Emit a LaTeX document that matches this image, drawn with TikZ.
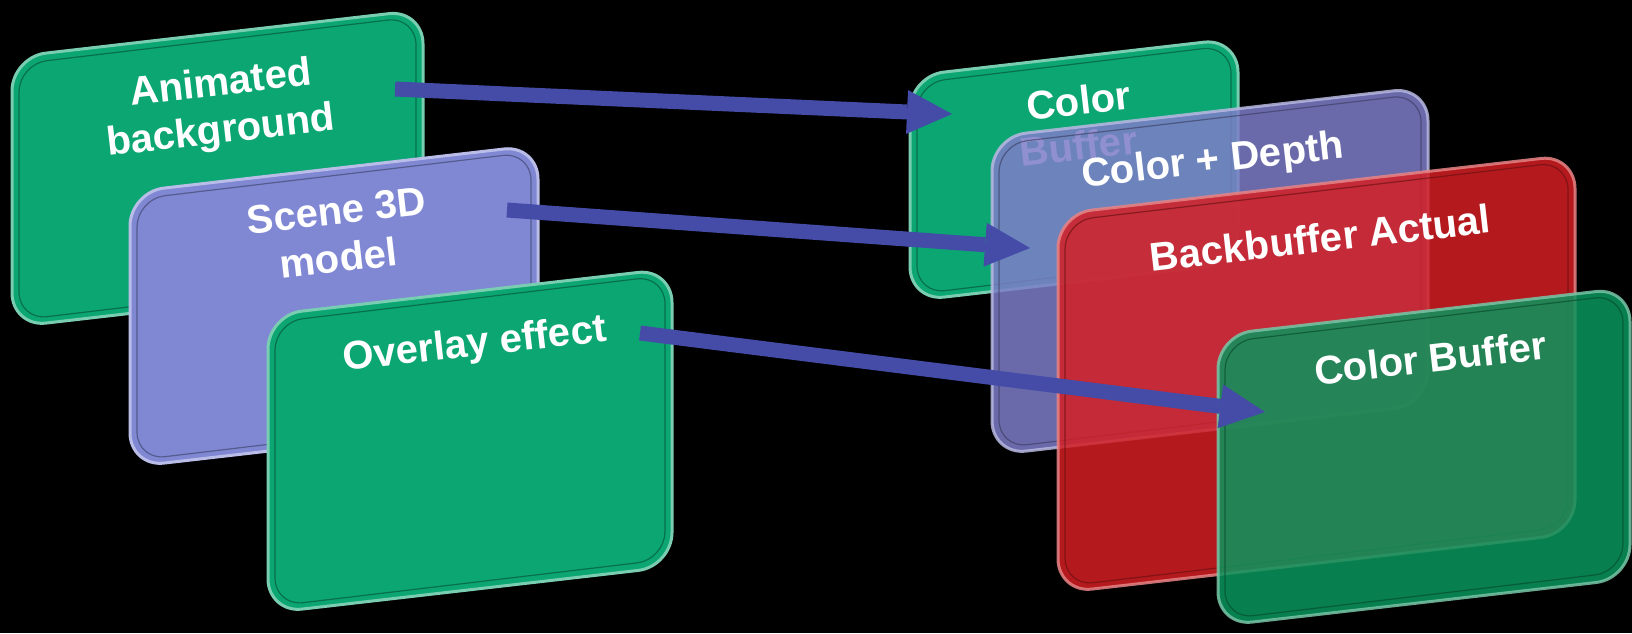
\documentclass[tikz,border=0pt]{standalone}
\usepackage{fontspec}
\setmainfont{Liberation Sans}
\usetikzlibrary{arrows.meta}
\definecolor{pgreen}{RGB}{12,166,115}
\definecolor{plav}{RGB}{128,136,212}
\definecolor{ptrlav}{RGB}{125,125,200}
\definecolor{pred}{RGB}{212,31,35}
\definecolor{pgreentr}{RGB}{10,150,94}
\definecolor{parrow}{RGB}{68,76,168}
% left, right, top-left y, height
\newcommand\panelpath[4]{(#1,#3) -- (#2,{#3-(#2-#1)*0.115}) -- (#2,{#3-(#2-#1)*0.115+#4}) -- (#1,{#3+#4}) -- cycle}
% left, right, top-left y, height, colour, opacity
\newcommand\panel[6]{%
  \fill[#5, fill opacity=#6, rounded corners=34pt] \panelpath{#1}{#2}{#3}{#4};
  \draw[#5!55!white, draw opacity=#6, line width=3pt, rounded corners=34pt] \panelpath{#1}{#2}{#3}{#4};
  \draw[#5!45!black, draw opacity=0.6, line width=1.2pt, rounded corners=28pt] \panelpath{#1+7}{#2-7}{#3+7}{#4-14};
}
\tikzset{
  lbl/.style={text=white, font=\fontsize{40}{46}\selectfont\bfseries, rotate=6.5, anchor=base, inner sep=0pt},
  conn/.style={draw=parrow, line width=15pt, -{Triangle[length=45pt,width=44pt,line width=0pt]}}
}
\begin{document}
\begin{tikzpicture}[x=1pt,y=-1pt]
\fill[black] (0,0) rectangle (1632,633);
\useasboundingbox (0,0) rectangle (1632,633);
% left stack
\panel{12}{423}{57}{270}{pgreen}{1}
\node[lbl] (tA1) at (222,95) {Animated};
\node[lbl] (tA2) at (222,143) {background};
\panel{130}{538}{192}{275}{plav}{1}
\node[lbl] (tB1) at (338,224) {Scene 3D};
\node[lbl] (tB2) at (340,272) {model};
\panel{268}{672}{315}{298}{pgreen}{1}
\node[lbl] (tC) at (476,356) {Overlay effect};
% right stack
\panel{910}{1238}{76}{225}{pgreen}{1}
\node[lbl] (tD1) at (1080,115) {Color};
\node[lbl] (tD2) at (1080,160) {Buffer};
\panel{992}{1428}{137}{318}{ptrlav}{0.85}
\node[lbl] (tE) at (1214,173) {Color + Depth};
\panel{1058}{1575}{214}{379}{pred}{0.85}
\node[lbl] (tF) at (1322,252) {Backbuffer Actual};
\panel{1218}{1630}{335}{291}{pgreentr}{0.85}
\node[lbl] (tG) at (1432,372) {Color Buffer};
% connectors
\coordinate (s1) at (395,89);
\coordinate (e1) at (952,114);
\coordinate (s2) at (507,210);
\coordinate (e2) at (1030,248);
\coordinate (s3) at (640,333);
\coordinate (e3) at (1265,412);
\draw[conn] (s1) -- (e1);
\draw[conn] (s2) -- (e2);
\draw[conn] (s3) -- (e3);
\end{tikzpicture}
\end{document}
